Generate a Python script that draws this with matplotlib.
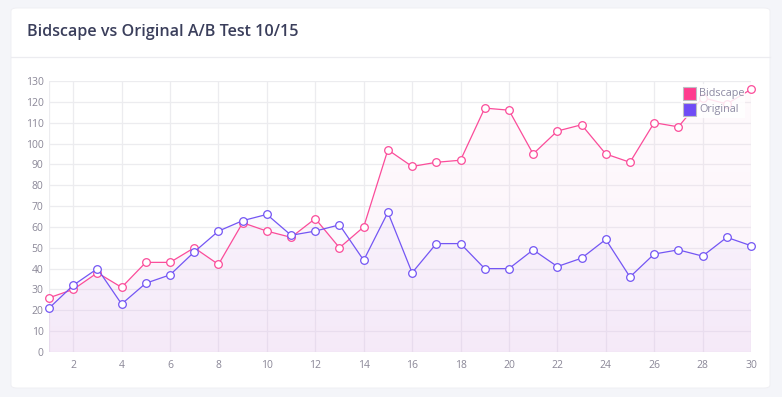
import matplotlib
matplotlib.use("Agg")
import matplotlib.pyplot as plt
import numpy as np
from matplotlib.patches import FancyBboxPatch, Rectangle, Polygon
from matplotlib.lines import Line2D

days = list(range(1, 31))
bidscape = [26, 30, 38, 31, 43, 43, 50, 42, 62, 58, 55, 64, 50, 60, 97,
            89, 91, 92, 117, 116, 95, 106, 109, 95, 91, 110, 108, 122, 119, 126]
original = [21, 32, 40, 23, 33, 37, 48, 58, 63, 66, 56, 58, 61, 44, 67,
            38, 52, 52, 40, 40, 49, 41, 45, 54, 36, 47, 49, 46, 55, 51]
x_ticks = list(range(2, 31, 2))
y_ticks = list(range(0, 131, 10))

title = "Bidscape vs Original A/B Test 10/15"
pink = "#fb4c9a"
purple = "#7456f4"
tick_color = "#8a8797"
grid_color = "#ececef"
plt.rcParams["font.family"] = ["Open Sans", "DejaVu Sans"]

fig = plt.figure(figsize=(7.82, 3.97), dpi=100)
fig.patch.set_facecolor("#f4f5f9")

# card background
card = FancyBboxPatch((11 / 782, 1 - 388 / 397), 759 / 782, 380 / 397,
                      boxstyle="round,pad=0,rounding_size=0.008",
                      transform=fig.transFigure, facecolor="white",
                      edgecolor="#eeeef2", linewidth=0.6, zorder=-5)
fig.add_artist(card)
fig.add_artist(Line2D([11 / 782, 770 / 782], [1 - 57 / 397] * 2,
                      transform=fig.transFigure, color="#ececf0", lw=0.9,
                      zorder=-4))
fig.text(27 / 782, 1 - 32 / 397, title, fontsize=11.6, fontweight="semibold",
         color="#3a3e5b", va="center", ha="left")

ax = fig.add_axes([49 / 782, 1 - 352 / 397, 702 / 782, 271 / 397])
ax.set_zorder(1)
ax.set_facecolor("none")
ax.set_xlim(1, 30)
ax.set_ylim(0, 130)

for s in ax.spines.values():
    s.set_visible(False)
ax.axvline(1, color=grid_color, lw=0.9, zorder=0)
for yv in y_ticks:
    ax.axhline(yv, color=grid_color, lw=0.9, zorder=0)
for xv in x_ticks:
    ax.axvline(xv, color=grid_color, lw=0.9, zorder=0)


def gradient_fill(ys, top_rgb, bot_rgb, top_a, bot_a):
    grad = np.linspace(0, 1, 256)[:, None]
    img = np.zeros((256, 1, 4))
    for i in range(3):
        img[:, 0, i] = top_rgb[i] * (1 - grad[:, 0]) + bot_rgb[i] * grad[:, 0]
    img[:, 0, 3] = top_a * (1 - grad[:, 0]) + bot_a * grad[:, 0]
    im = ax.imshow(img, extent=[1, 30, 0, max(ys)], aspect="auto",
                   origin="upper", zorder=1)
    verts = [(1, 0)] + list(zip(days, ys)) + [(30, 0)]
    poly = Polygon(verts, closed=True, facecolor="none", edgecolor="none")
    ax.add_patch(poly)
    im.set_clip_path(poly)


gradient_fill(bidscape, (1.0, 0.85, 0.92), (0.88, 0.72, 0.92), 0.12, 0.2)
gradient_fill(original, (0.85, 0.8, 1.0), (0.9, 0.76, 0.93), 0.1, 0.15)

ax.plot(days, bidscape, color=pink, lw=0.9, marker="o", ms=5.5,
        mfc="white", mec=pink, mew=0.9, zorder=3, clip_on=False)
ax.plot(days, original, color=purple, lw=0.9, marker="o", ms=5.5,
        mfc="white", mec=purple, mew=0.9, zorder=3, clip_on=False)

ax.set_xticks(x_ticks)
ax.set_yticks(y_ticks)
ax.tick_params(length=0, labelsize=7.5, labelcolor=tick_color, pad=6)
ax.tick_params(axis="y", pad=4)

# legend, on a see-through white panel above the lines
lax = fig.add_axes([681 / 782, 1 - 118 / 397, 64 / 782, 34 / 397])
lax.set_zorder(5)
lax.set_xlim(0, 64)
lax.set_ylim(34, 0)
lax.axis("off")
lax.add_patch(Rectangle((0, 0), 64, 34, facecolor="white", alpha=0.85,
                        edgecolor="none"))
for i, (name, col) in enumerate([("Bidscape", "#ff3c8e"), ("Original", "#6f4cf6")]):
    top = 3 + i * 16
    lax.add_patch(Rectangle((2, top), 13, 13, facecolor=col,
                            edgecolor="#bdbdc4", lw=0.8))
    lax.text(18, top + 6.5, name, fontsize=7.8, color="#8d8aa3",
             va="center", ha="left")

fig.savefig("out.png", dpi=100, facecolor=fig.get_facecolor())
